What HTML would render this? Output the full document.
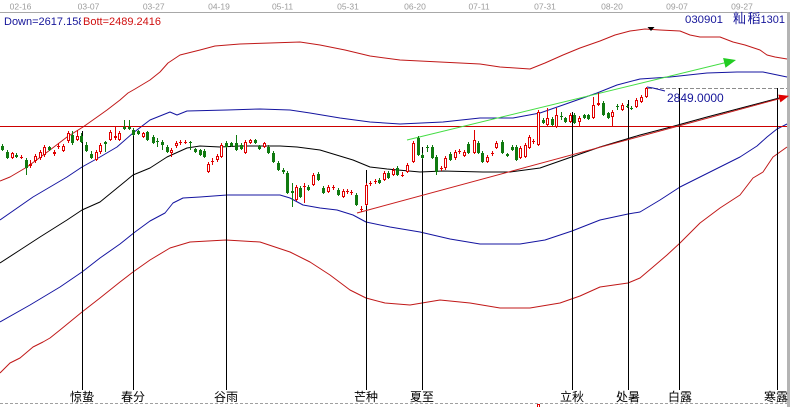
<!DOCTYPE html>
<html><head><meta charset="utf-8"><style>
html,body{margin:0;padding:0;background:#fff;}
svg{display:block;}
text{font-family:"Liberation Sans","Noto Sans CJK SC",sans-serif;}
</style></head><body>
<svg width="790" height="407" viewBox="0 0 790 407" xmlns="http://www.w3.org/2000/svg">
<rect width="790" height="407" fill="#fff"/>
<!-- top date axis -->
<g fill="#9c9c9c" font-size="8.5" text-anchor="middle">
<text x="20.5" y="9.5">02-16</text><text x="88.5" y="9.5">03-07</text><text x="153.7" y="9.5">03-27</text>
<text x="219" y="9.5">04-19</text><text x="282.5" y="9.5">05-11</text><text x="348" y="9.5">05-31</text>
<text x="415" y="9.5">06-20</text><text x="479" y="9.5">07-11</text><text x="545" y="9.5">07-31</text>
<text x="612" y="9.5">08-20</text><text x="677" y="9.5">09-07</text><text x="742" y="9.5">09-27</text>
</g>
<line x1="0" y1="12.5" x2="787" y2="12.5" stroke="#a8a8a8" stroke-width="1"/>
<rect x="787" y="12" width="3" height="395" fill="#b4b4b4"/>
<!-- header texts -->
<svg x="0" y="12" width="81" height="20" overflow="hidden"><text x="4" y="13" font-size="11" fill="#16169a">Down=2617.1586</text></svg>
<text x="83" y="25" font-size="11" fill="#d01010">Bott=2489.2416</text>
<text x="685" y="23" font-size="11.4" fill="#16169a">030901</text>
<text x="733" y="23" font-size="13" fill="#16169a" letter-spacing="1.5">籼稻</text>
<text x="785" y="23" font-size="11" fill="#16169a" text-anchor="end">1301</text>
<!-- bands -->
<g fill="none" stroke-width="1" stroke-linejoin="round">
<polyline stroke="#c01818" points="0,181 10,177 27,167 50,150 67,137 83,127 100,115 107,110 120,100 128,93 135,89 150,80 160,72 168,63 180,55 200,50 215,46 240,44 270,43 300,42 320,45 345,50 370,56 400,60 440,62 480,64 500,67 530,69 545,63 563,55 580,48 600,41 615,35 630,31 645,29 660,30 680,31 690,35 700,37 720,37 733,42 745,45 760,50 767,55 775,57 787,59"/>
<polyline stroke="#1414a0" points="0,220 33,197 67,177 82,167 100,157 117,147 133,133 150,120 170,112 177,115 187,111 227,110 260,109 290,110 310,113 340,118 370,122 400,124 443,122 480,118 513,118 540,113 563,105 597,93 617,85 640,79 670,77 707,73 737,72 763,72 787,77"/>
<polyline stroke="#000" points="0,263 20,250 40,237 67,220 82,210 100,202 133,175 150,168 167,157 187,148 200,146 220,147 240,146 280,146 297,147 320,150 353,160 370,167 387,169 420,172 443,171 483,172 510,172 540,168 560,161 600,147 640,135 667,128 707,117 745,107 783,97"/>
<polyline stroke="#1414a0" points="0,322 30,305 60,287 82,272 100,258 120,244 135,232 150,221 165,213 173,203 183,198 200,197 227,195 280,195 290,198 303,205 320,208 337,210 353,215 366,222 390,227 420,232 450,239 480,244 520,244 545,240 572,231 600,220 628,214 640,212 660,200 680,187 700,177 740,157 757,146 767,137 777,129 787,124"/>
<polyline stroke="#c01818" points="0,373 10,363 20,358 33,347 43,342 50,338 60,330 82,312 100,298 120,282 133,272 150,260 170,248 190,242 226,240 260,242 290,252 310,262 330,275 350,290 366,298 385,303 410,305 440,300 470,303 500,308 530,308 560,303 580,296 600,287 628,283 640,278 653,267 667,255 680,243 700,223 720,208 740,195 753,178 763,172 773,157 787,147"/>
</g>
<!-- horizontal red line -->
<line x1="0" y1="126.5" x2="787" y2="126.5" stroke="#cc0000" stroke-width="1"/>
<!-- dashed price line -->
<line x1="648" y1="88.5" x2="787" y2="88.5" stroke="#8c8c8c" stroke-width="1" stroke-dasharray="4,2"/>
<!-- solar term vertical lines -->
<g stroke="#000" stroke-width="1">
<line x1="82.5" y1="131" x2="82.5" y2="390"/>
<line x1="133.5" y1="128" x2="133.5" y2="390"/>
<line x1="226.5" y1="143" x2="226.5" y2="390"/>
<line x1="366.5" y1="170" x2="366.5" y2="390"/>
<line x1="422.5" y1="147" x2="422.5" y2="390"/>
<line x1="572.5" y1="112" x2="572.5" y2="390"/>
<line x1="628.5" y1="100" x2="628.5" y2="390"/>
<line x1="679.5" y1="88" x2="679.5" y2="390"/>
<line x1="777.5" y1="88" x2="777.5" y2="390"/>
</g>
<!-- trend lines -->
<line x1="357" y1="213" x2="782" y2="98" stroke="#c81c1c" stroke-width="1"/>
<polygon points="789,95.9 780.4,102.4 778.3,94.6" fill="#e00000"/>
<line x1="407" y1="140" x2="726" y2="62.5" stroke="#44dd44" stroke-width="1"/>
<polygon points="736,60 725.5,67.7 723.1,58" fill="#22cc22"/>
<!-- candles: green -->
<path fill="none" stroke="#107a10" stroke-width="1" d="M2.5 144V151M7.5 150V159M16.5 153V158M26.5 158V175M49.5 146V151M72.5 131V145M81.5 133V143M86.5 142V152M91.5 151V159M105.5 141V152M124.5 120V130M129.5 120V130M133.5 128V136M138.5 130V135M147.5 131V141M153.5 135V144M157.5 138V147M162.5 140V150M167.5 145V153M190.5 141V150M195.5 148V153M200.5 149V156M204.5 149V158M226.5 141V148M231.5 142V147M236.5 135V151M241.5 143V150M255.5 139V144M259.5 145V150M268.5 145V154M273.5 151V163M278.5 161V171M283.5 168V174M287.5 171V194M292.5 183V207M300.5 186V198M308.5 185V191M318.5 172V181M323.5 186V194M338.5 188V196M356.5 193V206M379.5 178V184M388.5 171V179M397.5 166V176M418.5 136V156M422.5 153V159M427.5 145V152M432.5 145V159M436.5 155V175M450.5 152V161M468.5 142V154M478.5 141V154M482.5 151V163M502.5 140V154M507.5 153V157M512.5 145V151M516.5 145V161M543.5 118V124M552.5 117V126M561.5 112V120M565.5 117V123M574.5 113V124M584.5 114V119M588.5 114V120M603.5 101V116M608.5 112V119M617.5 104V110M627.5 104V108M631.5 106V110"/>
<path fill="#107a10" d="M1 146h3v4h-3zM6 152h3v6h-3zM15 155h3v2h-3zM25 160h3v8h-3zM48 147h3v3h-3zM71 135h3v8h-3zM80 136h3v6h-3zM85 145h3v6h-3zM90 154h3v4h-3zM104 142h3v2h-3zM123 127h3v2h-3zM128 127h3v2h-3zM132 130h3v5h-3zM137 131h3v3h-3zM146 132h3v8h-3zM152 137h3v6h-3zM156 141h3v1h-3zM161 142h3v3h-3zM166 147h3v5h-3zM189 142h3v1h-3zM194 149h3v3h-3zM199 150h3v5h-3zM203 151h3v6h-3zM225 143h3v4h-3zM230 143h3v3h-3zM235 143h3v7h-3zM240 145h3v4h-3zM254 140h3v3h-3zM258 146h3v3h-3zM267 147h3v6h-3zM272 153h3v9h-3zM277 163h3v7h-3zM282 170h3v2h-3zM286 173h3v20h-3zM291 191h3v2h-3zM299 188h3v9h-3zM307 187h3v3h-3zM317 174h3v6h-3zM322 188h3v5h-3zM337 190h3v5h-3zM355 195h3v10h-3zM378 180h3v3h-3zM387 173h3v5h-3zM396 168h3v7h-3zM417 138h3v17h-3zM421 155h3v3h-3zM426 147h3v1h-3zM431 147h3v11h-3zM435 157h3v15h-3zM449 154h3v6h-3zM467 144h3v9h-3zM477 143h3v10h-3zM481 153h3v9h-3zM501 142h3v11h-3zM506 154h3v2h-3zM511 147h3v3h-3zM515 147h3v13h-3zM542 120h3v3h-3zM551 119h3v6h-3zM560 116h3v1h-3zM564 118h3v4h-3zM573 115h3v8h-3zM583 115h3v3h-3zM587 115h3v4h-3zM602 103h3v12h-3zM607 113h3v5h-3zM616 106h3v1h-3zM626 106h3v1h-3zM630 108h3v1h-3z"/>
<!-- candles: red -->
<path fill="none" stroke="#e00000" stroke-width="1" d="M12.5 152V159M21.5 155V159M30.5 160V168M35.5 154V163M40.5 150V160M44.5 145V157M54.5 150V156M58.5 143V149M63.5 144V152M68.5 131V143M77.5 130V141M96.5 150V161M100.5 143V154M110.5 130V141M115.5 126V140M119.5 131V141M143.5 132V138M171.5 148V157M176.5 141V148M180.5 140V145M185.5 140V144M208.5 162V173M212.5 158V165M217.5 154V162M221.5 143V158M245.5 140V154M250.5 139V144M264.5 142V148M296.5 185V201M304.5 183V203M313.5 173V186M328.5 185V193M333.5 185V190M343.5 189V198M347.5 189V194M351.5 190V195M361.5 206V212M366.5 183V206M370.5 181V186M375.5 179V184M384.5 171V181M393.5 168V176M402.5 172V177M407.5 163V173M413.5 141V163M441.5 166V171M445.5 156V170M455.5 150V160M459.5 149V154M464.5 150V157M474.5 130V154M487.5 155V163M492.5 151V156M496.5 141V149M520.5 146V159M525.5 143V158M529.5 135V149M533.5 139V144M538.5 110V146M547.5 108V126M556.5 108V128M570.5 113V123M579.5 116V126M593.5 97V119M598.5 93V106M612.5 110V127M622.5 103V111M636.5 98V108M641.5 95V103M646.5 87V98M20 157.5h3M57 146.5h3M179 142.5h3M184 142.5h3M211 161.5h3M303 186.5h3M332 187.5h3M346 191.5h3M350 192.5h3M360 209.5h3M369 183.5h3M374 181.5h3M401 175.5h3M440 168.5h3M458 151.5h3M491 153.5h3M532 141.5h3"/>
<g fill="#fff" stroke="#e00000" stroke-width="1">
<rect x="11.5" y="153.5" width="2" height="4"/><rect x="29.5" y="164.5" width="2" height="1"/><rect x="34.5" y="156.5" width="2" height="4"/>
<rect x="39.5" y="152.5" width="2" height="5"/><rect x="43.5" y="147.5" width="2" height="7"/><rect x="53.5" y="152.5" width="2" height="1"/>
<rect x="62.5" y="146.5" width="2" height="4"/><rect x="67.5" y="133.5" width="2" height="7"/><rect x="76.5" y="136.5" width="2" height="3"/>
<rect x="95.5" y="152.5" width="2" height="7"/><rect x="99.5" y="145.5" width="2" height="6"/><rect x="109.5" y="132.5" width="2" height="7"/>
<rect x="114.5" y="136.5" width="2" height="1"/><rect x="118.5" y="133.5" width="2" height="6"/><rect x="142.5" y="133.5" width="2" height="3"/>
<rect x="170.5" y="150.5" width="2" height="2"/><rect x="175.5" y="143.5" width="2" height="2"/><rect x="207.5" y="164.5" width="2" height="7"/>
<rect x="216.5" y="156.5" width="2" height="3"/><rect x="220.5" y="145.5" width="2" height="11"/><rect x="244.5" y="142.5" width="2" height="10"/>
<rect x="249.5" y="140.5" width="2" height="2"/><rect x="263.5" y="143.5" width="2" height="3"/><rect x="295.5" y="187.5" width="2" height="12"/>
<rect x="312.5" y="175.5" width="2" height="9"/><rect x="327.5" y="187.5" width="2" height="4"/><rect x="342.5" y="191.5" width="2" height="5"/>
<rect x="365.5" y="185.5" width="2" height="19"/><rect x="383.5" y="173.5" width="2" height="6"/><rect x="392.5" y="170.5" width="2" height="4"/>
<rect x="406.5" y="165.5" width="2" height="6"/><rect x="412.5" y="143.5" width="2" height="18"/><rect x="444.5" y="158.5" width="2" height="9"/>
<rect x="454.5" y="152.5" width="2" height="5"/><rect x="463.5" y="152.5" width="2" height="3"/><rect x="473.5" y="140.5" width="2" height="12"/>
<rect x="486.5" y="157.5" width="2" height="4"/><rect x="495.5" y="143.5" width="2" height="4"/><rect x="519.5" y="148.5" width="2" height="9"/>
<rect x="524.5" y="145.5" width="2" height="11"/><rect x="528.5" y="137.5" width="2" height="10"/><rect x="537.5" y="112.5" width="2" height="32"/>
<rect x="546.5" y="118.5" width="2" height="6"/><rect x="555.5" y="115.5" width="2" height="11"/><rect x="569.5" y="115.5" width="2" height="6"/>
<rect x="578.5" y="118.5" width="2" height="3"/><rect x="592.5" y="105.5" width="2" height="12"/><rect x="597.5" y="103.5" width="2" height="1"/>
<rect x="611.5" y="112.5" width="2" height="4"/><rect x="621.5" y="105.5" width="2" height="4"/><rect x="635.5" y="100.5" width="2" height="6"/>
<rect x="640.5" y="97.5" width="2" height="4"/><rect x="645.5" y="88.5" width="2" height="8"/>
<rect x="537.5" y="404.5" width="2" height="3"/>
</g>
<!-- last price marker -->
<polyline points="647,87 653,88 665,91" fill="none" stroke="#1414a0" stroke-width="1"/>
<text x="667" y="102" font-size="12" fill="#16169a">2849.0000</text>
<polygon points="647.5,27 654.5,27 651,31" fill="#000"/>
<!-- bottom labels -->
<line x1="0" y1="403.5" x2="787" y2="403.5" stroke="#a0a0a0" stroke-width="1" stroke-dasharray="3,2"/>
<g font-size="12" fill="#000" text-anchor="middle">
<text x="82" y="401">惊蛰</text><text x="133" y="401">春分</text><text x="226" y="401">谷雨</text>
<text x="366" y="401">芒种</text><text x="422" y="401">夏至</text><text x="572" y="401">立秋</text>
<text x="628" y="401">处暑</text><text x="680" y="401">白露</text><text x="776" y="401">寒露</text>
</g>
</svg>
</body></html>
